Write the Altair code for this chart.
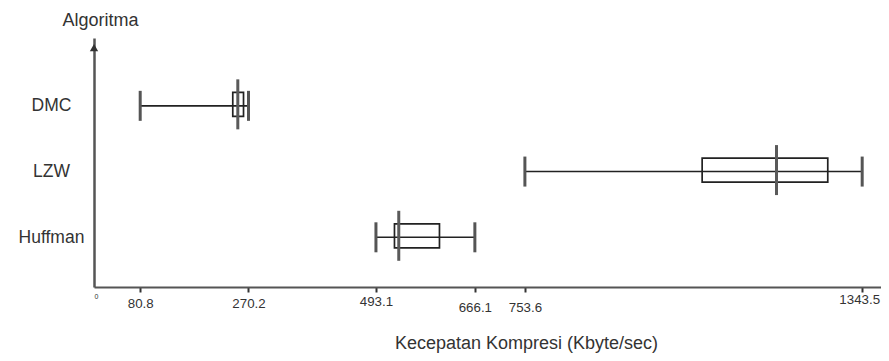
import altair as alt
import pandas as pd

# ---- data ----
algorithms = ["DMC", "LZW", "Huffman"]
row_pos = [3, 2, 1]
whisker_low = [80.8, 753.6, 493.1]
q1 = [242.7, 1063.6, 525.5]
median = [251.5, 1193.6, 533.0]
q3 = [261.5, 1283.3, 604.2]
whisker_high = [270.2, 1343.5, 666.1]
x_ticks = [0, 80.8, 270.2, 493.1, 666.1, 753.6, 1343.5]

x_domain = [0, 1376.4]
y_domain = [0.32, 3.956]

FONT = "Liberation Sans"
TXT = "#333333"

df = pd.DataFrame(dict(alg=algorithms, pos=row_pos, lo=whisker_low, q1=q1,
                       med=median, q3=q3, hi=whisker_high))
caps = df.melt(id_vars=["alg", "pos"], value_vars=["lo", "hi"], value_name="v")
arrow_df = pd.DataFrame({"x": [0], "y": [y_domain[1] - 0.07]})

label_lookup = "[" + ",".join("'%s'" % a for a in
                              [algorithms[row_pos.index(p)] for p in sorted(row_pos)]) + "]"

x_axis = alt.Axis(
    values=x_ticks, format=".1~f", grid=False,
    domainColor="#555555", domainWidth=2,
    tickColor="#333333", tickSize=5, tickWidth=2,
    tickOpacity={"condition": {"test": "datum.value == 0", "value": 0}, "value": 1},
    labelFont=FONT, labelColor=TXT, labelBaseline="top",
    labelFontSize={"condition": {"test": "datum.value == 0", "value": 7}, "value": 13.3},
    labelOffset={"condition": {"test": "datum.value == 1343.5", "value": -3}, "value": 0},
    labelPadding={"condition": [
        {"test": "datum.value == 666.1 || datum.value == 753.6", "value": 8},
        {"test": "datum.value == 493.1", "value": 2},
        {"test": "datum.value == 1343.5 || datum.value == 0", "value": 0}],
        "value": 4},
    title="Kecepatan Kompresi (Kbyte/sec)", titleFont=FONT, titleFontSize=18,
    titleFontWeight="normal", titleColor=TXT, titleX=432, titleY=61,
    titleAlign="center", titleBaseline="alphabetic",
)

y_axis = alt.Axis(
    values=row_pos, labelExpr=label_lookup + "[datum.value - 1]", grid=False,
    domainColor="#555555", domainWidth=2.5, ticks=False, tickSize=0,
    labelFont=FONT, labelFontSize=17.5, labelColor=TXT, labelAlign="center",
    labelBaseline="middle", labelPadding=43,
    title="Algoritma", titleAngle=0, titleX=6, titleY=-13, titleAlign="center",
    titleBaseline="alphabetic", titleFont=FONT, titleFontSize=18,
    titleFontWeight="normal", titleColor=TXT,
)

xs = alt.Scale(domain=x_domain, nice=False, zero=False)
ys = alt.Scale(domain=y_domain, nice=False, zero=False)


def X(field):
    return alt.X(field, type="quantitative", scale=xs, axis=x_axis)


def Y(field):
    return alt.Y(field, type="quantitative", scale=ys, axis=y_axis)


base = alt.Chart(df)

whisker = base.mark_rule(color="#222222", strokeWidth=1.6).encode(
    x=X("lo"), x2="hi", y=Y("pos"))

box = base.mark_bar(orient="horizontal", size=24, fillOpacity=0, stroke="#222222",
                    strokeWidth=1.7, yOffset=-1.5).encode(
    x=X("q1"), x2="q3", y=Y("pos"))

cap = alt.Chart(caps).mark_tick(orient="vertical", size=30, thickness=3,
                                color="#555555", opacity=1).encode(
    x=X("v"), y=Y("pos"))

med = base.mark_tick(orient="vertical", size=50, thickness=3, color="#5a5a5a",
                     opacity=1, yOffset=-1.5).encode(
    x=X("med"), y=Y("pos"))

arrow = alt.Chart(arrow_df).mark_point(shape="triangle-up", filled=True, size=70,
                                        color="#333333", opacity=1).encode(
    x=X("x"), y=Y("y"))

chart = alt.layer(whisker, box, cap, med, arrow).properties(
    width=787, height=249, autosize="none",
    padding={"left": 86, "top": 30, "right": 0, "bottom": 66},
    background="white",
).configure_view(stroke=None)

chart.save("out.html", embed_options={"renderer": "svg", "actions": False})
